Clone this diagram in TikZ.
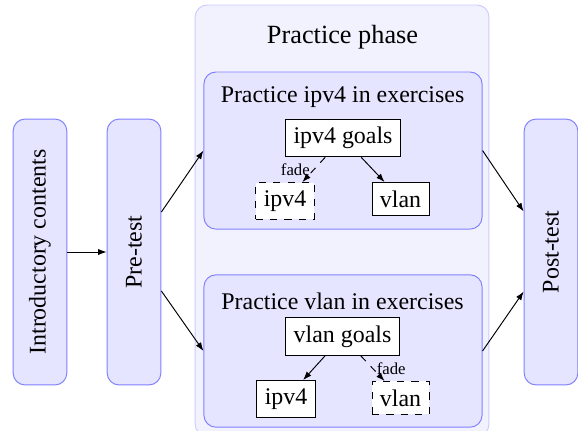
\documentclass[tikz,border=0pt]{standalone}
\usepackage{fontspec}
\setmainfont{Liberation Serif}
\usetikzlibrary{arrows.meta,positioning}

\begin{document}
\begin{tikzpicture}[
  stagebox/.style={draw=blue!50,fill=blue!10,rounded corners=5pt,rotate=90,
    minimum width=3.91cm,minimum height=0.79cm},
  phasebox/.style={draw=blue!20,fill=blue!5,rounded corners=5pt,
    minimum width=4.32cm,minimum height=6.34cm},
  groupbox/.style={draw=blue!50,fill=blue!10,rounded corners=5pt,minimum width=4.09cm},
  topic/.style={draw,fill=white},
  faded/.style={topic,dashed},
  arr/.style={-{Latex[length=3.6pt,width=2.6pt]}},
  fadelbl/.style={font=\scriptsize,inner sep=1.5pt}
]
  \useasboundingbox (0,0) rectangle (8.5,6.324);
  \clip (0,0) rectangle (8.5,6.324);

  % practice phase with its two groups
  \node[phasebox] (phase) at (5.03,3.08) {};
  \node[font=\fontsize{11}{13}\selectfont] (phasetitle) at (5.037,5.776) {Practice phase};
  \node[groupbox,minimum height=2.31cm] (ipgroup) at (5.044,4.11) {};
  \node[groupbox,minimum height=2.24cm] (vlgroup) at (5.044,1.162) {};

  % ipv4 exercises
  \node (iptitle) at (5.037,4.89) {Practice ipv4 in exercises};
  \node[topic] (ipgoals) at (5.044,4.294) {ipv4 goals};
  \node[faded,anchor=north] (ipipv) at (4.191,3.647) {ipv4};
  \node[topic,anchor=north] (ipvlan) at (5.89,3.647) {vlan};
  \draw[arr,dashed] (ipgoals) -- (ipipv) node[midway,left,fadelbl]{fade};
  \draw[arr] (ipgoals) -- (ipvlan);

  % vlan exercises
  \node (vltitle) at (5.037,1.89) {Practice vlan in exercises};
  \node[topic] (vlgoals) at (5.037,1.375) {vlan goals};
  \node[topic,anchor=north] (vlipv) at (4.206,0.735) {ipv4};
  \node[faded,anchor=north] (vlvlan) at (5.89,0.721) {vlan};
  \draw[arr] (vlgoals) -- (vlipv);
  \draw[arr,dashed] (vlgoals) -- (vlvlan) node[midway,right,fadelbl]{fade};

  % course stages
  \node[stagebox] (intro) at (0.588,2.618) {Introductory contents};
  \node[stagebox] (pre) at (1.971,2.618) {Pre-test};
  \node[stagebox] (post) at (8.103,2.618) {Post-test};

  \draw[arr] (intro) -- (pre);
  \draw[arr] (pre) -- (ipgroup.west);
  \draw[arr] (pre) -- (vlgroup.west);
  \draw[arr] (ipgroup.east) -- (post);
  \draw[arr] (vlgroup.east) -- (post);
\end{tikzpicture}
\end{document}
